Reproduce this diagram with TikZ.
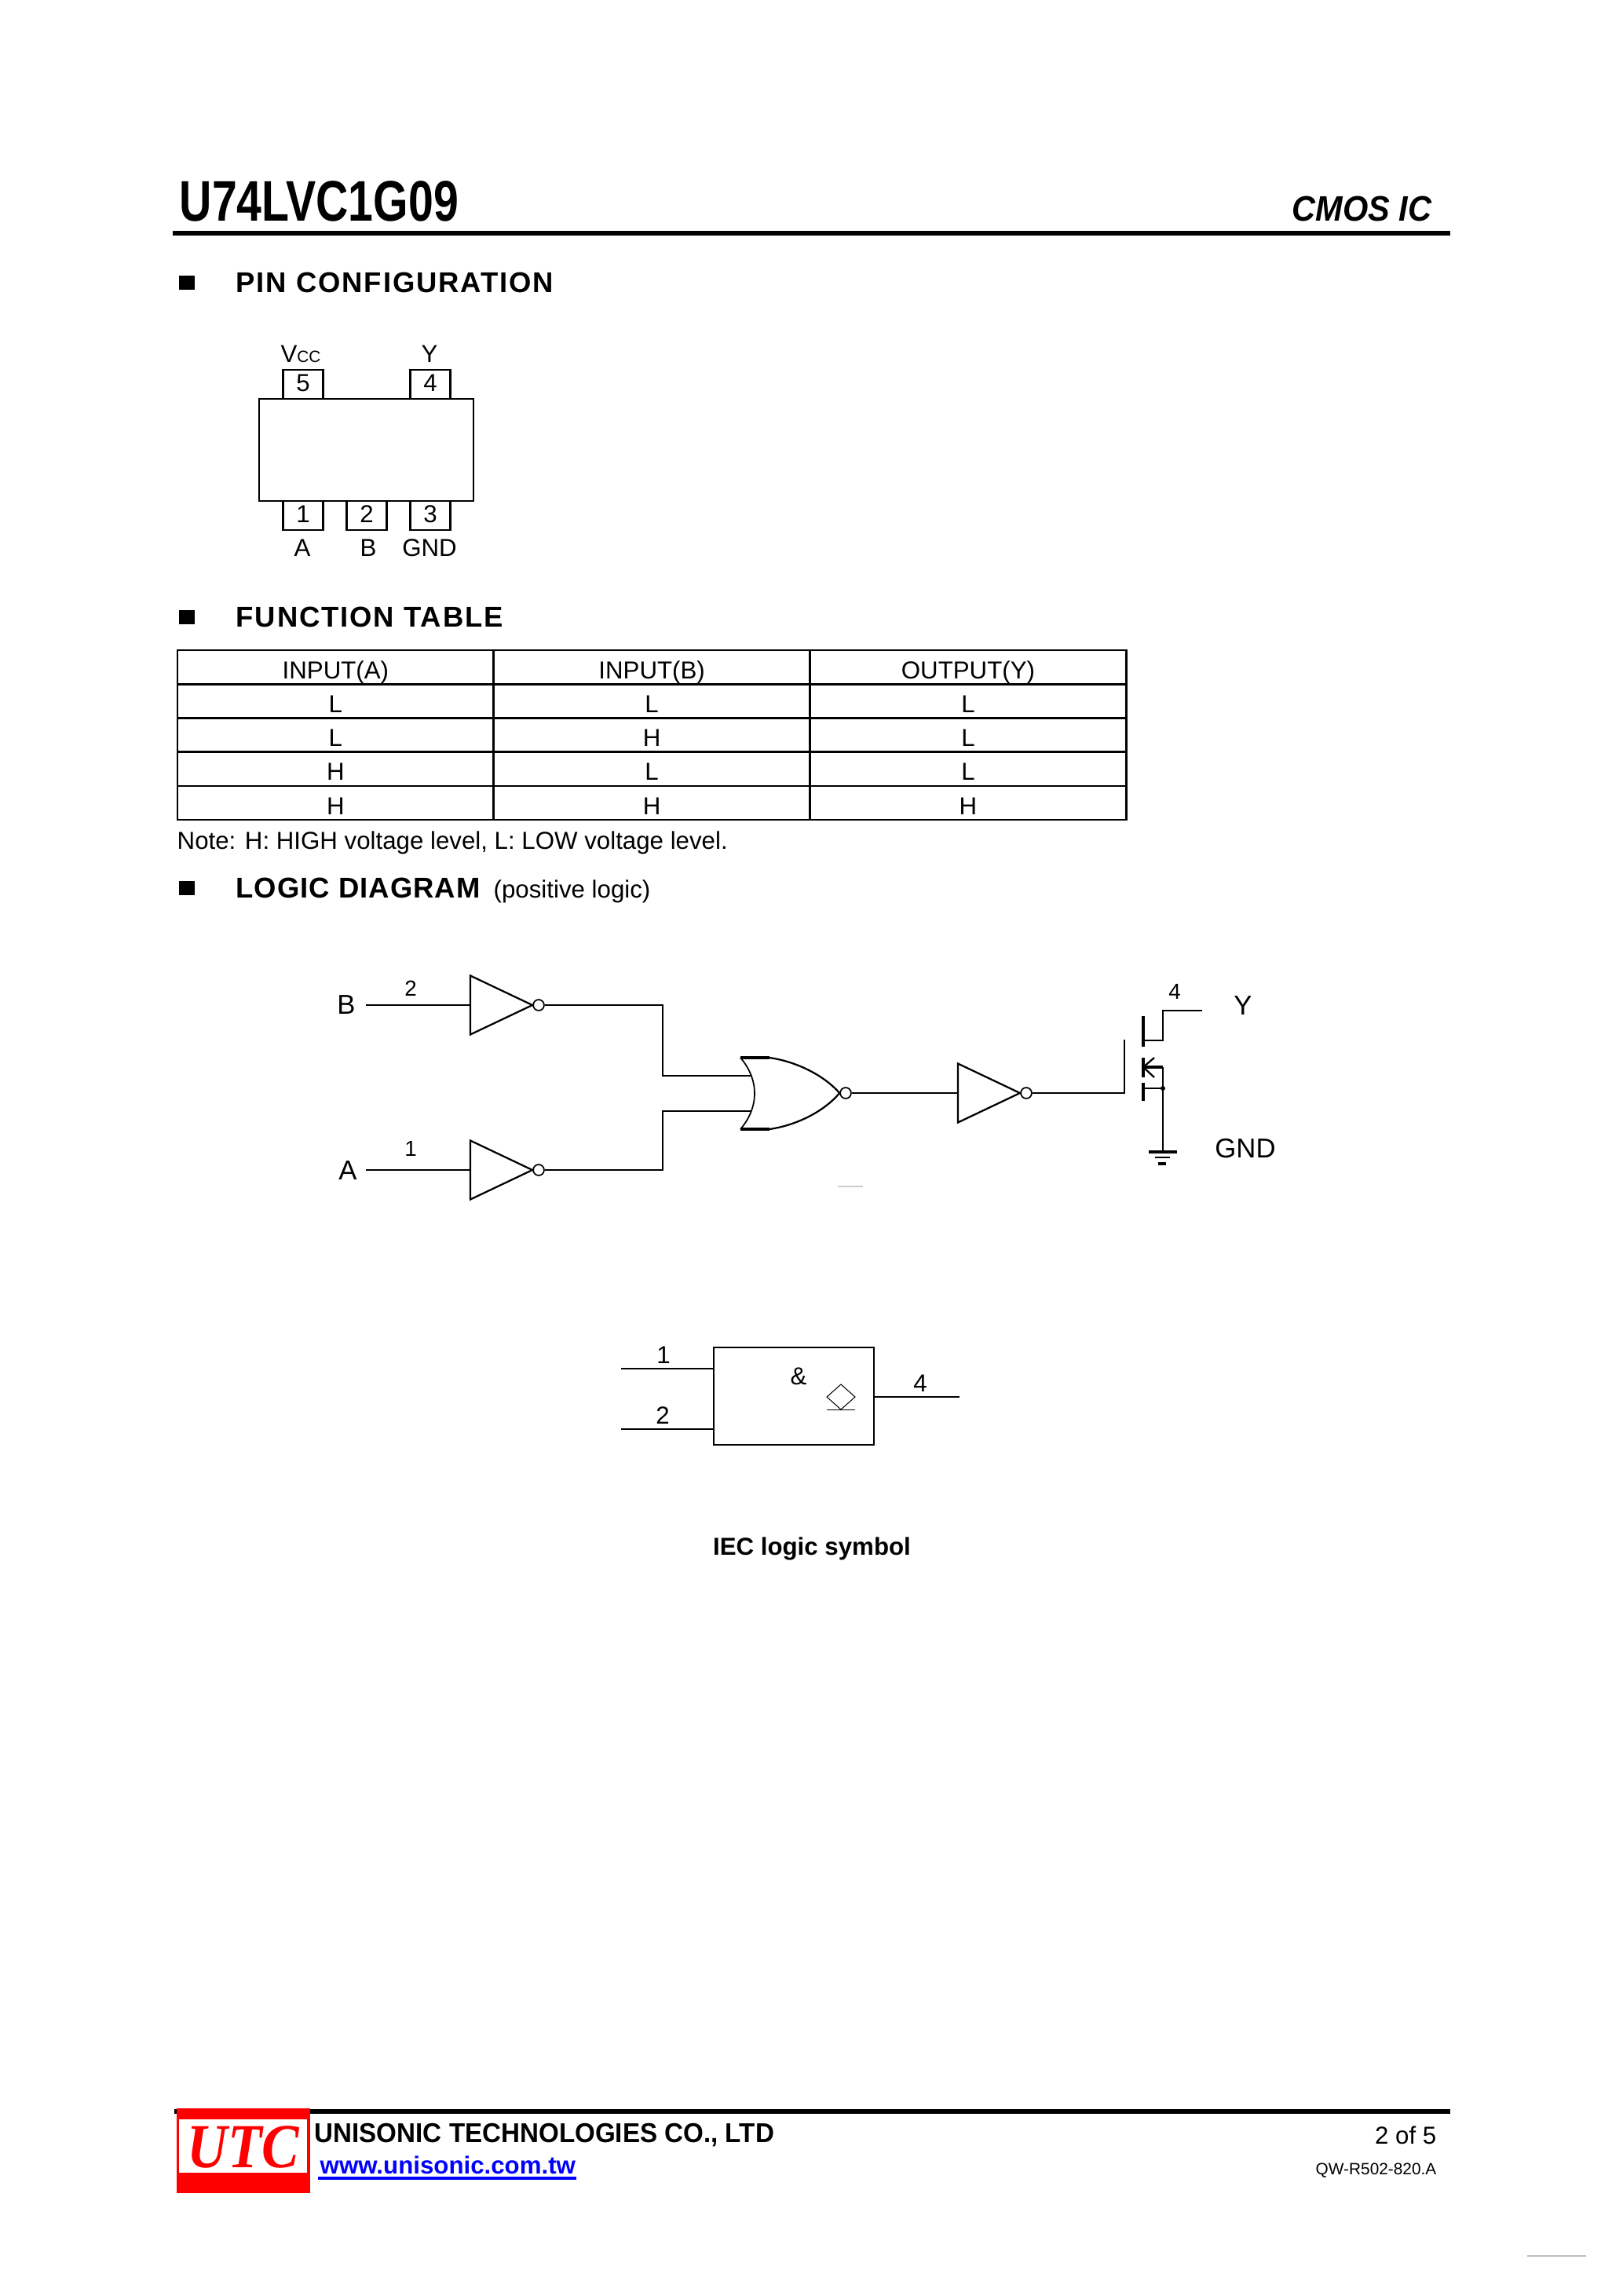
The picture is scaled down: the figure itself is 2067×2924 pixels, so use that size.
\documentclass[tikz,border=0pt]{standalone}
\usepackage{fontspec}
\usetikzlibrary{matrix}
\setmainfont{Liberation Sans}
\newfontfamily\titlefont[FakeStretch=.785]{Liberation Sans}
\newfontfamily\cmosfont[FakeStretch=.92]{Liberation Sans}
\newfontfamily\headfont[LetterSpace=5.2]{Liberation Sans}
\newfontfamily\logicfont[LetterSpace=2.8]{Liberation Sans}
\newfontfamily\firmfont[FakeStretch=.955]{Liberation Sans}
\newfontfamily\logofont[FakeStretch=.89]{Liberation Serif}
\newcommand{\fs}[1]{\fontsize{#1}{#1}\selectfont}
\definecolor{utcred}{RGB}{255,0,0}
\definecolor{urlblue}{RGB}{0,0,255}
\tikzset{
  lbl/.style={anchor=base,inner sep=0pt,font=\fs{9}},
  lblw/.style={anchor=base west,inner sep=0pt,font=\fs{9}},
  lble/.style={anchor=base east,inner sep=0pt,font=\fs{9}},
  heading/.style={lblw,font=\headfont\bfseries\fs{10.5}},
  bullet/.style={fill=black,inner sep=0pt,minimum width=5.8pt,minimum height=5.4pt},
  pinbox/.style={draw,line width=.8pt,inner sep=0pt,outer sep=0pt,minimum width=14.7pt,
    minimum height=10.7pt,text height=7.8pt,text depth=2.9pt,font=\fs{9}},
  wire/.style={line width=.65pt},
  heavy/.style={line width=.95pt},
  fine/.style={line width=.5pt},
  bubble/.style={draw,circle,line width=.5pt,inner sep=0pt,minimum size=4pt},
}
\begin{document}
\begin{tikzpicture}[x=.288pt,y=-.288pt]
  \useasboundingbox (0,0) rectangle (2067,2924);
  % header
  \node[lblw,font=\titlefont\bfseries\fs{21}] (title) at (228,281) {U74LVC1G09};
  \node[lble,font=\cmosfont\bfseries\itshape\fs{13}] (cmos) at (1824,281) {CMOS IC};
  \draw[line width=1.75pt] (220,297) -- (1847,297);
  % headings
  \node[bullet] (bulleta) at (238,360) {};
  \node[heading] (headpin) at (300,372) {PIN CONFIGURATION};
  \node[bullet] (bulletb) at (238,786) {};
  \node[heading] (headfun) at (300,798) {FUNCTION TABLE};
  \node[bullet] (bulletc) at (238,1131) {};
  \node[heading,font=\logicfont\bfseries\fs{10.5}] (headlog) at (300,1143) {LOGIC DIAGRAM};
  \node[lblw] (headpos) at (628,1143) {(positive logic)};
  % package
  \node[pinbox] (pinv) at (386,489.5) {5};
  \node[pinbox] (pinf) at (548,489.5) {4};
  \node[pinbox] (pina) at (386,656.5) {1};
  \node[pinbox] (pinb) at (467,656.5) {2};
  \node[pinbox] (pinc) at (548,656.5) {3};
  \node[draw,line width=.8pt,fill=white,inner sep=0pt,minimum width=78.6pt,minimum height=37.4pt] (chip) at (466.5,573) {};
  \node[lbl] (lblvcc) at (383,461) {V{\fs{6}CC}};
  \node[lbl] (lbly) at (547,461) {Y};
  \node[lbl] (lbla) at (385,708) {A};
  \node[lbl] (lblb) at (469,708) {B};
  \node[lbl] (lblg) at (547,708) {GND};
  % table
  \matrix (funtab) [matrix of nodes, anchor=north west, inner sep=0pt, row sep=-.75pt, column sep=-.75pt,
    nodes={draw,line width=.75pt,inner sep=0pt,outer sep=0pt,minimum width=116pt,minimum height=12.45pt,
      text height=10.45pt,text depth=2pt,font=\fs{9}}] at (224,826)
  {
INPUT(A) & INPUT(B) & OUTPUT(Y) \\
L & L & L \\
L & H & L \\
H & L & L \\
H & H & H \\
};
  \node[lblw] (note) at (225,1081) {Note: H: HIGH voltage level, L: LOW voltage level.};
  % logic diagram
  \foreach \nm/\x/\y in {inva/599/1280,invb/599/1490,invc/1220/1392}
  {
    \coordinate (\nm) at (\x,\y);
    \draw[wire] (\nm) ++(0,-37.5) -- ++(79,37.5) -- ++(-79,37.5) -- cycle;
    \node[bubble] (\nm o) at (\x+87,\y) {};
  }
  \coordinate (inb) at (466,1280);
  \coordinate (ina) at (466,1490);
  \coordinate (norina) at (957,1370);
  \coordinate (norinb) at (957,1415);
  \coordinate (gatein) at (1432,1324);
  \node[bubble] (noro) at (1077,1392) {};
  \draw[fine] (943,1347) .. controls (967,1375) and (967,1410) .. (943,1438);
  \draw[heavy] (943,1347) -- (980,1347);
  \draw[heavy] (943,1438) -- (980,1438);
  \draw[wire] (980,1347) .. controls (1015,1352) and (1050,1370) .. (noro.west);
  \draw[wire] (980,1438) .. controls (1015,1433) and (1050,1415) .. (noro.west);
  \draw[wire] (inb) -- (inva);
  \draw[wire] (ina) -- (invb);
  \draw[wire] (invao.east) -- ++(150,0) |- (norina);
  \draw[wire] (invbo.east) -- ++(150,0) |- (norinb);
  \draw[line width=.75pt] (noro.east) -- (invc);
  \draw[wire] (invco.east) -| (gatein);
  \node[lbl] (lblinb) at (441,1291) {\fs{10}B};
  \node[lbl] (lblina) at (443,1502) {\fs{10}A};
  \node[lbl] (numb) at (523,1268) {\fs{8}2};
  \node[lbl] (numa) at (523,1472) {\fs{8}1};
  \draw[gray!40,fine] (1067,1511) -- (1099,1511);
  % output transistor
  \coordinate (drain) at (1481,1325);
  \coordinate (source) at (1481,1359);
  \coordinate (body) at (1481,1386);
  \coordinate (gnd) at (1481,1467);
  \coordinate (yout) at (1531,1287);
  \draw[heavy] (1456,1294) -- (1456,1333);
  \draw[heavy] (1456,1347) -- (1456,1372);
  \draw[heavy] (1456,1379) -- (1456,1402);
  \draw[wire] (1456,1325) -- (drain) |- (yout);
  \draw[wire] (1470,1347) -- (1456,1359) -- (1470,1372);
  \draw[heavy] (1456,1359) -- (source);
  \draw[wire] (source) -- (gnd);
  \draw[wire] (1456,1386) -- (body);
  \fill (body) circle (3);
  \draw[heavy] (1463,1467) -- (1499,1467);
  \draw[wire] (1471,1474) -- (1490,1474);
  \draw[heavy] (1475,1482) -- (1485,1482);
  \node[lbl] (num4) at (1496,1272) {\fs{8}4};
  \node[lbl] (lbloy) at (1583,1292) {\fs{10}Y};
  \node[lbl] (lblog) at (1586,1474) {\fs{10}GND};
  % IEC symbol
  \node[draw,fine,inner sep=0pt,minimum width=58.8pt,minimum height=35.7pt] (iec) at (1011,1778) {};
  \coordinate (iecina) at (791,1743);
  \coordinate (iecinb) at (791,1820);
  \coordinate (iecout) at (1222,1779);
  \draw[fine] (iecina) -- (iecina -| iec.west);
  \draw[fine] (iecinb) -- (iecinb -| iec.west);
  \draw[fine] (iecout -| iec.east) -- (iecout);
  \node[lbl] (iecnuma) at (845,1736) {1};
  \node[lbl] (iecnumb) at (844,1813) {2};
  \node[lbl] (iecnumc) at (1172,1772) {4};
  \node[lbl] (iecamp) at (1017,1763) {\&};
  \draw[line width=.3pt] (1053,1779) -- (1071,1763) -- (1089,1779) -- (1071,1795) -- cycle;
  \draw[line width=.3pt] (1053,1795) -- (1089,1795);
  \node[lbl,font=\bfseries\fs{9}] (ieccap) at (1034,1980) {IEC logic symbol};
  % footer
  \draw[line width=1.75pt] (222,2689) -- (1847,2689);
  \node[fill=utcred,inner sep=0pt,minimum width=49pt,minimum height=31.1pt] (logobg) at (310,2739) {};
  \node[fill=white,inner sep=0pt,minimum width=47.2pt,minimum height=19.6pt] (logobox) at (309.5,2733) {};
  \node[lbl,font=\logofont\bfseries\itshape\fs{23},text=utcred] (logo) at (310,2760) {UTC};
  \node[lblw,font=\firmfont\bfseries\fs{10}] (firm) at (400,2728) {UNISONIC TECHNOLOGIES CO., LTD};
  \node[lblw,font=\bfseries\fs{9},text=urlblue] (url) at (407,2768) {www.unisonic.com.tw};
  \draw[urlblue,line width=1.15pt] (405,2774) -- (734,2774);
  \node[lble] (page) at (1830,2730) {2 of 5};
  \node[lble,font=\fs{6}] (docno) at (1830,2769) {QW-R502-820.A};
  \draw[gray!50,line width=.4pt] (1945,2873) -- (2020,2873);
\end{tikzpicture}
\end{document}
